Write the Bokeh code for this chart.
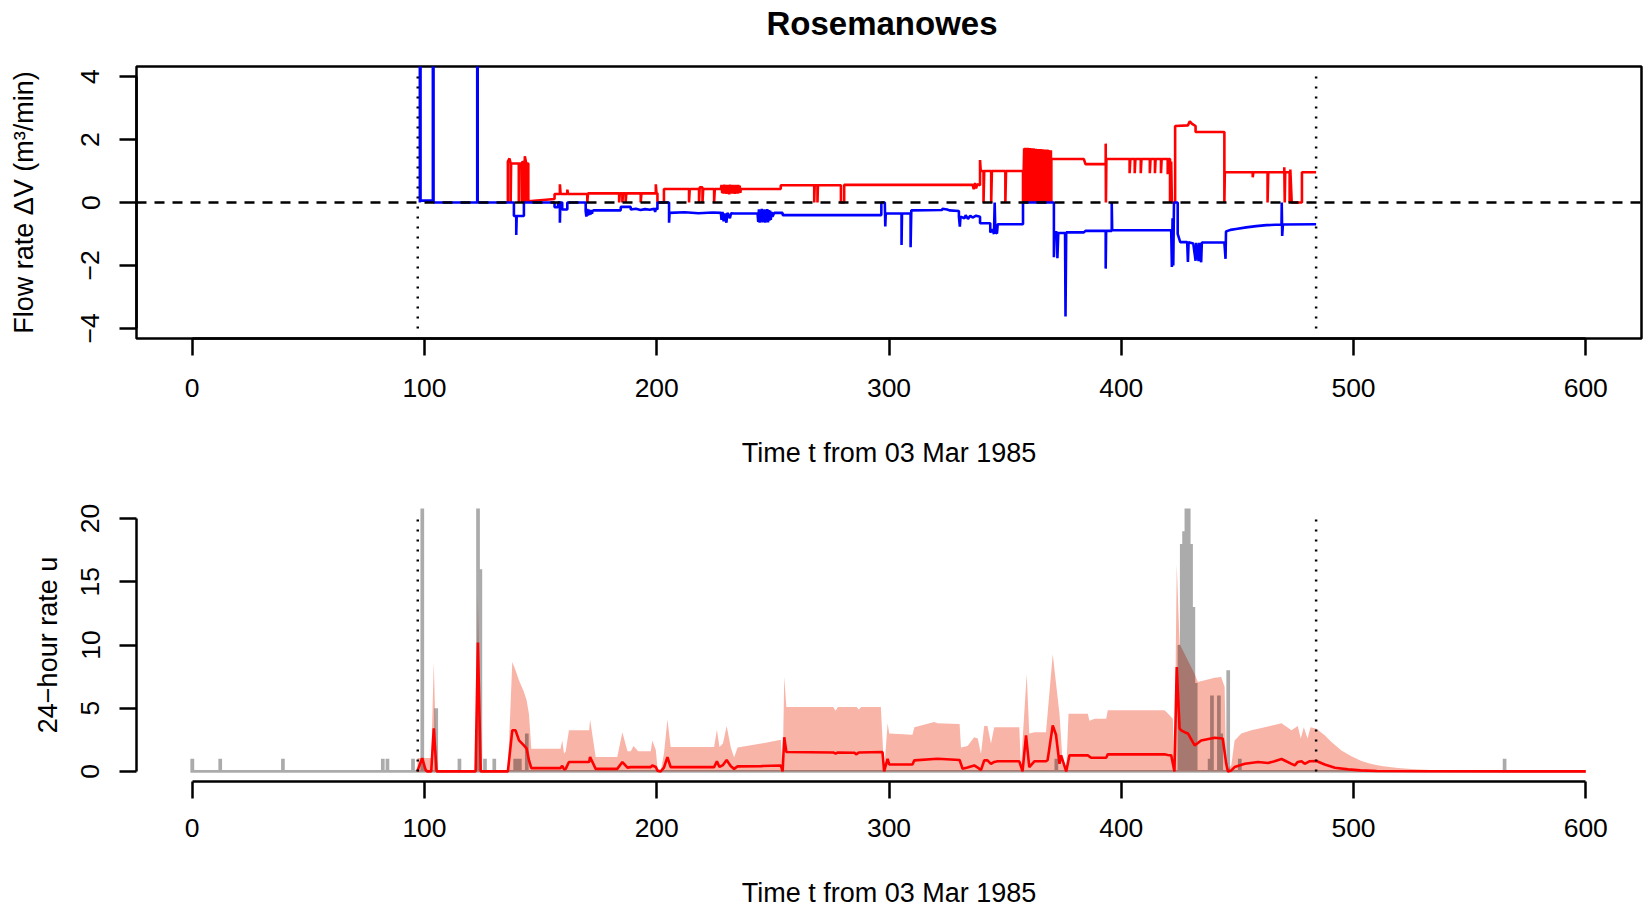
import numpy as np
from bokeh.plotting import figure
from bokeh.models import Span, FixedTicker, Range1d, Label
from bokeh.layouts import column
from bokeh.embed import file_html
from bokeh.resources import INLINE

# ---------------- data ----------------
title_text = "Rosemanowes"
x_label = "Time t from 03 Mar 1985"
y1_label = "Flow rate \u0394V (m\u00b3/min)"
y2_label = "24\u2212hour rate u"
x_ticks = [0, 100, 200, 300, 400, 500, 600]
y1_ticks = [-4, -2, 0, 2, 4]
y2_ticks = [0, 5, 10, 15, 20]
window_t = [97.1, 483.9]

# injection (positive) flow, (t, value)
red_flow = [
    (135.9, 0.0), (135.9, 1.30), (136.6, 1.40), (137.1, 1.24), (137.1, 0.0), (137.3, 1.24),
    (140.6, 1.24), (140.6, 0.0), (140.8, 1.24), (141.9, 1.24), (141.9, 0.0), (142.1, 1.30),
    (143.0, 1.24), (143.0, 0.0), (143.2, 1.47), (143.8, 1.24), (143.8, 0.0), (144.2, 1.24),
    (144.7, 1.24), (144.7, 0.04),
    (156.0, 0.11), (156.0, 0.27), (158.3, 0.27), (158.3, 0.58), (158.6, 0.27),
    (161.5, 0.27), (161.5, 0.41), (161.8, 0.27), (170.1, 0.27), (170.1, 0.0), (170.4, 0.29),
    (183.8, 0.29), (183.8, 0.0), (184.1, 0.29), (185.2, 0.29), (185.2, 0.0), (185.5, 0.29),
    (186.6, 0.29), (186.6, 0.0), (186.9, 0.29), (193.1, 0.29), (193.1, 0.0), (193.4, 0.29),
    (199.6, 0.29), (199.6, 0.58), (199.9, 0.29), (200.3, 0.29), (200.3, 0.0),
    (203.1, 0.0), (203.1, 0.43), (213.9, 0.43), (213.9, 0.0), (214.2, 0.43),
    (218.2, 0.43), (218.2, 0.0), (218.5, 0.48), (219.7, 0.48), (219.7, 0.0), (220.0, 0.43),
    (224.7, 0.43), (224.7, 0.0), (225.0, 0.43), (227.6, 0.43),
    (227.9, 0.56), (228.2, 0.30), (228.5, 0.55), (228.8, 0.28), (229.1, 0.57), (229.4, 0.31),
    (229.7, 0.54), (230.0, 0.27), (230.3, 0.56), (230.6, 0.30), (230.9, 0.55), (231.2, 0.26),
    (231.5, 0.57), (231.8, 0.29), (232.1, 0.55), (232.4, 0.28), (232.7, 0.56), (233.0, 0.30),
    (233.3, 0.54), (233.6, 0.27), (233.9, 0.56), (234.2, 0.29), (234.5, 0.55), (234.8, 0.28),
    (235.1, 0.56), (235.4, 0.30), (235.7, 0.54), (236.0, 0.31), (236.2, 0.43),
    (253.4, 0.43), (253.4, 0.55), (267.8, 0.55), (267.8, 0.0), (268.0, 0.55),
    (269.2, 0.55), (269.2, 0.0), (269.4, 0.55),
    (279.3, 0.55), (279.3, 0.0), (280.7, 0.0), (280.7, 0.56), (336.0, 0.56),
    (336.5, 0.42), (337.0, 0.62), (337.5, 0.45), (338.0, 0.58), (339.2, 0.55),
    (339.2, 1.35), (339.5, 1.0),
    (340.7, 1.0), (340.7, 0.0), (341.0, 1.0), (344.0, 1.0), (344.0, 0.0), (344.3, 1.0),
    (350.1, 1.0), (350.1, 0.0), (350.4, 1.0), (357.7, 1.0), (357.7, 0.0),
    (358.2, 1.72), (358.45, 0.0), (358.7, 1.74), (358.95, 0.0), (359.2, 1.73), (359.45, 0.0),
    (359.7, 1.74), (359.95, 0.0), (360.2, 1.72), (360.45, 0.0), (360.7, 1.73), (360.95, 0.0),
    (361.2, 1.72), (361.45, 0.0), (361.7, 1.71), (361.95, 0.0), (362.2, 1.72), (362.45, 0.0),
    (362.7, 1.70), (362.95, 0.0), (363.2, 1.71), (363.45, 0.0), (363.7, 1.70), (363.95, 0.0),
    (364.2, 1.70), (364.45, 0.0), (364.7, 1.69), (364.95, 0.0), (365.2, 1.70), (365.45, 0.0),
    (365.7, 1.68), (365.95, 0.0), (366.2, 1.69), (366.45, 0.0), (366.7, 1.68), (366.95, 0.0),
    (367.2, 1.68), (367.45, 0.0), (367.7, 1.67), (367.95, 0.0), (368.2, 1.68), (368.45, 0.0),
    (368.7, 1.67), (368.95, 0.0), (369.2, 1.66), (369.45, 0.0), (369.7, 1.66),
    (369.9, 0.0), (369.9, 1.38), (383.9, 1.38), (384.6, 1.22), (393.3, 1.22),
    (393.3, 1.87), (393.4, 0.0), (393.6, 1.38),
    (403.6, 1.38), (403.6, 0.93), (403.9, 1.38), (405.8, 1.38), (405.8, 0.93), (406.1, 1.38),
    (408.4, 1.38), (408.4, 0.93), (408.7, 1.38), (412.3, 1.38), (412.3, 0.93), (412.6, 1.38),
    (414.5, 1.38), (414.5, 0.93), (414.8, 1.38), (417.1, 1.38), (417.1, 0.93), (417.4, 1.38),
    (420.0, 1.38), (420.0, 0.90), (420.3, 1.38), (421.0, 1.38), (421.0, 0.0), (421.5, 1.30),
    (421.8, 0.0), (423.2, 0.0),
    (423.2, 2.43), (428.7, 2.45), (429.5, 2.58), (430.5, 2.50), (432.0, 2.43), (432.0, 2.24),
    (444.4, 2.24), (444.4, 0.0),
    (444.6, 0.96), (456.6, 0.96), (456.6, 0.80), (456.9, 0.96), (463.0, 0.96), (463.0, 0.0),
    (463.3, 0.96), (470.2, 0.96), (470.2, 1.12), (470.4, 0.0), (470.6, 0.96), (472.5, 0.96),
    (472.5, 0.0), (472.8, 1.05), (473.4, 0.0), (477.8, 0.0), (477.8, 0.96), (483.9, 0.96),
]

# production (negative) flow, (t, value)
blue_flow = [
    (98.0, 0.0), (98.0, 30.0), (98.3, 30.0), (98.3, 0.06), (103.6, 0.06), (103.6, 30.0),
    (103.9, 30.0), (103.9, 0.0), (122.7, 0.0), (122.7, 30.0), (122.9, 30.0), (122.9, 0.0),
    (138.5, 0.0), (138.5, -0.43), (139.5, -0.43), (139.5, -1.03), (139.7, -0.43),
    (142.8, -0.43), (142.8, 0.0),
    (156.0, 0.0), (156.0, -0.15), (157.5, -0.15), (157.5, 0.0), (158.3, 0.0), (158.3, -0.64),
    (158.5, 0.0), (159.3, 0.0), (159.3, -0.22), (161.5, -0.22), (161.5, 0.0),
    (169.4, 0.0), (169.4, -0.27), (169.7, -0.45), (170.0, -0.20), (170.3, -0.42), (170.6, -0.22),
    (170.9, -0.40), (171.2, -0.25), (171.5, -0.38), (171.8, -0.24), (172.1, -0.36), (172.4, -0.26),
    (173.0, -0.25), (184.5, -0.25), (184.5, -0.14), (188.8, -0.14), (188.8, -0.22),
    (191.0, -0.20), (193.0, -0.24), (195.0, -0.21), (197.0, -0.23), (199.0, -0.20),
    (199.3, -0.30), (199.6, -0.18), (200.3, -0.22), (200.3, 0.0),
    (205.3, 0.0), (205.3, -0.64), (205.5, -0.33), (212.0, -0.31), (218.0, -0.34),
    (224.0, -0.32), (227.6, -0.33),
    (227.9, -0.55), (228.3, -0.30), (228.8, -0.60), (229.2, -0.35), (230.0, -0.64),
    (230.4, -0.33), (231.5, -0.50), (232.0, -0.34), (233.3, -0.35),
    (243.4, -0.35), (243.7, -0.62), (244.0, -0.22), (244.3, -0.64), (244.6, -0.25),
    (244.9, -0.60), (245.2, -0.20), (245.5, -0.63), (245.8, -0.24), (246.1, -0.62),
    (246.4, -0.22), (246.7, -0.64), (247.0, -0.25), (247.3, -0.60), (247.6, -0.21),
    (247.9, -0.63), (248.2, -0.24), (248.5, -0.58), (248.8, -0.26), (249.1, -0.55),
    (249.4, -0.30), (249.8, -0.45), (250.6, -0.33),
    (254.2, -0.33), (254.2, -0.40), (296.7, -0.40), (296.7, 0.0), (298.2, 0.0),
    (298.4, -0.76), (298.6, -0.35),
    (305.4, -0.35), (305.4, -1.35), (305.6, -0.35), (309.3, -0.35), (309.3, -1.42),
    (309.6, -0.25), (322.9, -0.24), (323.0, -0.20), (325.0, -0.22), (326.0, -0.25),
    (330.1, -0.27), (330.1, -0.45), (330.5, -0.77), (330.8, -0.45), (332.5, -0.50),
    (333.0, -0.40), (334.0, -0.52), (335.0, -0.42), (336.0, -0.48), (337.5, -0.42),
    (339.2, -0.45), (339.2, -0.66), (343.6, -0.66), (343.6, -0.95), (344.5, -0.85),
    (345.2, -1.00), (345.5, 0.0), (345.8, -0.95), (346.5, -0.98), (346.8, -0.69),
    (357.7, -0.69), (357.7, 0.0),
    (371.0, 0.0), (371.0, -1.74), (371.4, -0.95), (372.4, -0.95), (372.5, -1.77),
    (372.9, -0.97), (375.8, -0.97), (376.0, -3.62), (376.3, -0.95), (383.9, -0.95),
    (384.6, -0.90), (393.3, -0.90), (393.3, -2.10), (393.5, -0.90), (395.9, -0.90),
    (395.9, 0.0), (396.1, -0.88), (421.5, -0.88), (421.8, -2.05), (422.1, -0.50),
    (422.4, -2.00), (422.7, 0.0), (424.3, 0.0), (424.3, -1.00), (425.4, -1.26),
    (428.4, -1.26), (428.7, -1.89), (429.0, -1.26), (431.0, -1.30), (432.0, -1.85),
    (432.3, -1.28), (433.3, -1.86), (433.6, -1.28), (434.4, -1.90), (434.7, -1.27),
    (444.4, -1.27), (444.9, -1.79), (445.1, -0.92), (447.0, -0.87), (449.4, -0.84),
    (453.8, -0.79), (458.1, -0.75), (462.5, -0.72), (469.0, -0.70), (469.1, 0.0),
    (469.3, -1.06), (469.6, -0.70), (483.9, -0.69),
]

# daily event counts
count_day = [0, 12, 39, 82, 84, 95, 99, 105, 115, 123, 124, 126, 130, 139, 140, 141, 144,
             372, 425, 426, 427, 428, 429, 430, 431, 432, 438, 439, 442, 443, 446, 451, 565]
count_n = [1, 1, 1, 1, 1, 1, 32, 5, 1, 28, 16, 1, 1, 1, 1, 1, 3,
           1, 10, 18, 19, 23, 23, 18, 13, 7, 1, 6, 6, 3, 8, 1, 1]

# estimated 24-hour rate (red line), (t, u)
rate_mid = [
    (96.9, 0.0), (99.0, 1.05), (100.5, 0.1), (101.2, 0.0), (102.9, 0.0), (104.0, 3.4),
    (105.2, 0.0), (122.0, 0.0), (123.0, 10.2), (124.2, 0.0), (135.9, 0.0), (137.8, 3.25),
    (139.2, 3.25), (140.7, 2.45), (142.8, 2.06), (144.0, 1.8), (145.0, 0.87), (146.0, 0.26),
    (158.6, 0.26), (159.3, 0.45), (160.1, 0.15), (160.8, 0.2), (162.2, 0.74), (170.9, 0.74),
    (171.3, 1.13), (173.7, 0.2), (183.0, 0.2), (185.2, 0.74), (187.4, 0.3), (188.8, 0.34),
    (197.4, 0.34), (198.1, 0.47), (199.6, 0.35), (200.3, 0.05), (201.7, 0.0), (203.1, 0.3),
    (204.6, 1.13), (206.0, 0.34), (224.7, 0.34), (225.9, 0.8), (227.0, 0.35), (228.5, 0.5),
    (230.1, 0.9), (231.9, 0.4), (233.3, 0.2), (234.8, 0.4), (245.0, 0.42), (253.4, 0.47),
    (254.2, 0.0), (254.9, 2.7), (255.8, 1.53), (276.0, 1.5), (277.0, 1.4), (278.0, 1.5),
    (285.0, 1.48), (286.0, 1.35), (287.0, 1.5), (297.2, 1.53), (297.9, 0.0), (299.4, 1.0),
    (300.1, 0.55), (310.1, 0.55), (310.9, 0.87), (320.9, 1.0), (330.4, 0.9), (331.7, 0.2),
    (333.8, 0.3), (336.7, 0.47), (338.2, 0.3), (339.6, 0.1), (341.0, 0.87), (342.4, 0.87),
    (343.9, 0.6), (345.3, 0.75), (346.8, 0.8), (356.1, 0.8), (357.5, 0.0), (359.0, 2.85),
    (360.4, 0.34), (362.6, 0.8), (367.6, 0.8), (368.3, 0.9), (370.5, 3.64), (371.9, 2.9),
    (373.4, 0.6), (374.1, 1.27), (376.3, 0.0), (377.7, 1.27), (385.6, 1.27), (387.0, 1.08),
    (393.5, 1.08), (394.2, 1.35), (418.6, 1.35), (420.0, 1.3), (421.5, 1.27), (422.9, 0.0),
    (423.9, 8.26), (425.1, 3.4), (425.8, 3.25), (427.3, 3.1), (428.7, 3.0), (431.6, 2.06),
    (433.0, 2.25), (434.4, 2.45), (440.2, 2.66), (443.7, 2.6), (445.2, 0.6), (445.9, 0.0),
    (447.4, 0.08), (448.8, 0.34), (453.2, 0.6), (458.9, 0.74), (463.2, 0.66), (466.0, 0.8),
    (469.0, 0.98), (471.0, 0.8), (473.3, 0.6), (474.7, 0.47), (476.0, 0.75), (477.6, 0.8),
    (479.0, 0.6), (481.0, 0.8), (484.0, 0.82), (487.6, 0.55), (492.0, 0.29), (497.7, 0.16),
    (503.0, 0.08), (510.0, 0.03), (530.0, 0.01), (600.0, 0.0),
]

# upper limit of the rate band (shaded), (t, u)
rate_upper = [
    (96.9, 0.0), (97.0, 1.05), (102.9, 1.05), (104.0, 8.65), (105.2, 0.0), (122.0, 0.0),
    (123.0, 14.0), (124.2, 0.0), (135.9, 0.0), (137.8, 8.65), (139.2, 8.0), (140.7, 7.2),
    (142.8, 6.3), (144.0, 5.6), (145.0, 4.5), (146.0, 1.8), (158.6, 1.8), (159.3, 2.45),
    (160.1, 1.4), (160.8, 1.6), (162.2, 3.25), (170.9, 3.25), (171.3, 4.1), (173.7, 1.13),
    (183.0, 1.13), (185.2, 3.1), (187.4, 1.6), (188.8, 1.6), (190.0, 2.0), (192.0, 1.6),
    (197.4, 1.6), (198.1, 2.45), (199.6, 1.7), (200.3, 0.3), (201.7, 0.0), (203.1, 1.4),
    (204.6, 4.1), (206.0, 1.93), (224.7, 1.93), (225.9, 3.3), (227.0, 1.93), (228.5, 2.2),
    (230.1, 3.6), (231.9, 1.9), (233.3, 1.1), (234.8, 1.9), (245.0, 2.2), (253.4, 2.5),
    (254.2, 0.0), (254.9, 7.5), (255.8, 5.1), (276.0, 5.1), (277.0, 4.8), (278.0, 5.1),
    (286.0, 5.1), (287.0, 4.9), (288.0, 5.1), (296.5, 5.1), (297.9, 0.0), (299.4, 3.8),
    (300.1, 3.0), (310.1, 2.9), (310.9, 3.5), (319.5, 3.9), (320.9, 3.8), (330.4, 3.75),
    (331.0, 1.9), (333.8, 2.0), (336.7, 2.7), (338.2, 2.6), (339.6, 1.4), (341.0, 3.6),
    (342.4, 3.6), (343.9, 2.2), (345.3, 3.5), (356.1, 3.5), (356.8, 0.4), (359.3, 7.7),
    (360.4, 3.0), (362.6, 3.1), (367.6, 3.1), (370.5, 9.26), (373.4, 4.56), (374.8, 0.6),
    (376.3, 0.0), (377.3, 4.56), (385.6, 4.56), (386.3, 4.0), (388.5, 4.17), (393.5, 4.17),
    (394.2, 4.83), (418.6, 4.83), (420.0, 4.6), (422.2, 4.17), (422.9, 0.0), (423.9, 16.4),
    (425.1, 10.1), (431.6, 7.7), (433.0, 7.07), (440.2, 7.4), (443.0, 7.47), (444.5, 6.7),
    (445.2, 0.0), (447.4, 0.5), (448.8, 2.45), (451.7, 3.0), (456.0, 3.25), (461.8, 3.5),
    (469.0, 3.8), (473.3, 3.25), (476.0, 3.6), (477.3, 2.6), (478.6, 3.5), (480.2, 2.6),
    (481.5, 3.5), (484.0, 3.38), (487.6, 2.85), (490.5, 2.32), (494.8, 1.66), (499.1, 1.19),
    (503.4, 0.82), (507.7, 0.58), (512.0, 0.42), (519.2, 0.26), (526.4, 0.16), (533.6, 0.11),
    (540.8, 0.07), (555.1, 0.03), (600.0, 0.0),
]

# ---------------- styling helpers ----------------
FONT = "Liberation Sans"
RED = "#FF0000"
BLUE = "#0000FF"
PINK = "#F9B4A8"
W = 1644
LEFT = 136
FRAME_W = 1505


def style_axes(p, xb, yb, xt, yt):
    for ax in (p.xaxis[0], p.yaxis[0]):
        ax.axis_line_width = 2.5
        ax.axis_line_color = "black"
        ax.major_tick_line_width = 2.5
        ax.major_tick_line_color = "black"
        ax.major_tick_out = 17
        ax.major_tick_in = 0
        ax.minor_tick_line_color = None
        ax.major_label_text_font = FONT
        ax.major_label_text_font_size = "26.5px"
        ax.major_label_text_color = "black"
        ax.axis_label_text_font = FONT
        ax.axis_label_text_font_size = "27px"
        ax.axis_label_text_font_style = "normal"
        ax.axis_label_text_color = "black"
    p.xaxis[0].ticker = FixedTicker(ticks=xt)
    p.yaxis[0].ticker = FixedTicker(ticks=yt)
    p.xaxis[0].bounds = xb
    p.yaxis[0].bounds = yb
    p.yaxis[0].major_label_standoff = 20
    p.yaxis[0].major_label_orientation = "parallel"
    p.yaxis[0].major_label_overrides = {t: str(t).replace("-", "\u2212") for t in yt}
    p.xgrid.visible = False
    p.ygrid.visible = False
    p.background_fill_color = "white"
    p.border_fill_color = "white"


def text_strip(height, text, x, y, size, style):
    # x is measured from the (column-aligned) frame left edge, y from the strip bottom
    s = figure(width=W, height=height, x_range=Range1d(0, 1), y_range=Range1d(0, 1),
               output_backend="svg", toolbar_location=None, min_border=0,
               x_axis_location=None, y_axis_location=None)
    s.outline_line_color = None
    s.grid.visible = False
    s.background_fill_color = "white"
    s.border_fill_color = "white"
    s.add_layout(Label(x=x, y=y, x_units="screen", y_units="screen", text=text,
                       text_align="center", text_baseline="middle", text_font=FONT,
                       text_font_size=size, text_font_style=style, text_color="black"))
    return s


# ---------------- title strip ----------------
p0 = text_strip(46, title_text, FRAME_W / 2 - 7, 23, "33px", "bold")

# ---------------- top panel ----------------
p1 = figure(width=W, height=424, x_range=Range1d(-24, 624), y_range=Range1d(-4.32, 4.32),
            output_backend="svg", toolbar_location=None,
            min_border_left=LEFT, min_border_right=3, min_border_top=20, min_border_bottom=132)
style_axes(p1, (0, 600), (min(y1_ticks), max(y1_ticks)), x_ticks, y1_ticks)
p1.xaxis[0].axis_label = x_label
p1.yaxis[0].axis_label = y1_label
p1.xaxis[0].major_label_standoff = 23
p1.xaxis[0].axis_label_standoff = 38
p1.yaxis[0].axis_label_standoff = 40
p1.outline_line_color = "black"
p1.outline_line_width = 2.5
p1.outline_line_alpha = 1.0

p1.add_layout(Span(location=0, dimension="width", line_color="black", line_width=2.5,
                   line_dash="10 8"))
rt, rv = zip(*red_flow)
bt, bv = zip(*blue_flow)
p1.line(list(rt), list(rv), line_color=RED, line_width=2.6)
p1.line(list(bt), list(bv), line_color=BLUE, line_width=2.6)
p1.segment(x0=window_t, y0=[min(y1_ticks)] * len(window_t), x1=window_t,
           y1=[max(y1_ticks)] * len(window_t), line_color="black", line_width=2.5,
           line_dash="2 8")

# ---------------- bottom panel ----------------
p2 = figure(width=W, height=407, x_range=Range1d(-24, 624), y_range=Range1d(-0.8, 20.8),
            output_backend="svg", toolbar_location=None,
            min_border_left=LEFT, min_border_right=3, min_border_top=38, min_border_bottom=96)
style_axes(p2, (0, 600), (min(y2_ticks), max(y2_ticks)), x_ticks, y2_ticks)
p2.yaxis[0].axis_label = y2_label
p2.xaxis[0].major_label_standoff = 20
p2.yaxis[0].axis_label_standoff = 16
p2.outline_line_color = None

ut, uv = zip(*rate_upper)
p2.varea(x=list(ut), y1=[0.0] * len(ut), y2=list(uv), fill_color=PINK, fill_alpha=1.0)

# histogram of daily counts as one translucent step area (with thin baseline)
grid = np.arange(-0.8, 600.0001, 0.1)
hist = np.zeros_like(grid)
for d, n in zip(count_day, count_n):
    m = np.abs(grid - d) <= 0.8
    hist[m] = np.maximum(hist[m], n)
base = 0.105
p2.varea_step(x=grid, y1=np.full_like(grid, -base), y2=np.maximum(hist, base),
              step_mode="center", fill_color="black", fill_alpha=0.33)

mt, mv = zip(*rate_mid)
p2.line(list(mt), list(mv), line_color=RED, line_width=2.6)
p2.segment(x0=window_t, y0=[min(y2_ticks)] * len(window_t), x1=window_t,
           y1=[max(y2_ticks)] * len(window_t), line_color="black", line_width=2.5,
           line_dash="2 8")

# ---------------- bottom x-axis title strip ----------------
p3 = text_strip(30, x_label, FRAME_W / 2, 14.5, "27px", "normal")

layout = column(p0, p1, p2, p3, spacing=0)
open("out.html", "w").write(file_html(layout, INLINE, title=title_text))
